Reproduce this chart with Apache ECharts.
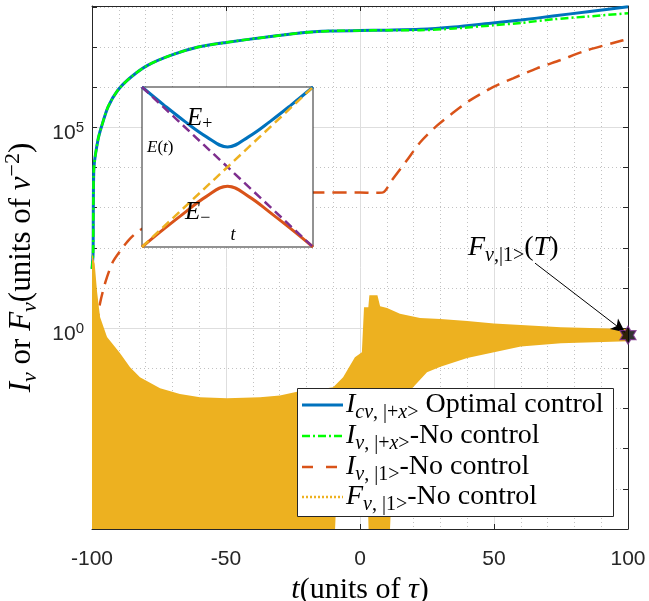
<!DOCTYPE html>
<html>
<head>
<meta charset="utf-8">
<script src="https://cdn.jsdelivr.net/npm/echarts@6/dist/echarts.min.js"></script>
<style>
html, body { margin: 0; padding: 0; background: #fff; }
#chart { width: 649px; height: 601px; }
</style>
</head>
<body>
<div id="chart"></div>
<script>
var chart = echarts.init(document.getElementById('chart'));

// I_v curves
var tPlus = [-100, -99.6, -99.5, -99.25, -97.8, -96.5, -94, -90.3, -85.3, -79.1, -70.4, -60.4, -50, -34.7, -22.4, -11.2, 0, 10, 22.4, 35, 49.6, 60, 72, 85, 100];
var iOptimal = [30, 72, 1.05e3, 1.05e4, 4.8e4, 1.02e5, 3.24e5, 8.5e5, 1.82e6, 3.55e6, 6.3e6, 1.0e7, 1.3e7, 1.78e7, 2.24e7, 2.5e7, 2.57e7, 2.63e7, 2.75e7, 3.16e7, 3.98e7, 4.68e7, 5.89e7, 7.59e7, 1.0e8];
var iPlusNoCtrl = [30, 72, 1.05e3, 1.05e4, 4.8e4, 1.02e5, 3.24e5, 8.5e5, 1.82e6, 3.55e6, 6.3e6, 1.0e7, 1.3e7, 1.78e7, 2.24e7, 2.5e7, 2.57e7, 2.63e7, 2.63e7, 2.88e7, 3.47e7, 3.98e7, 4.9e7, 5.75e7, 6.92e7];

var tOne = [-99.5, -98, -97, -95, -92.2, -88.6, -85.8, -82.2, -75, -65, -55, -45, -35, -25, -16, 0, 5, 8.6, 11.9, 17.5, 22.4, 28, 34.7, 41, 49.6, 57.1, 66, 74.6, 84.7, 97.8, 100];
var iOneNoCtrl = [0.3, 1.5, 4.2, 14, 45, 100, 170, 275, 450, 800, 1250, 1700, 2050, 2300, 2400, 2400, 2340, 2400, 4800, 1.51e4, 4.2e4, 1.0e5, 2.3e5, 4.68e5, 1.0e6, 1.66e6, 2.95e6, 4.68e6, 8.3e6, 1.45e7, 1.58e7];

// F_v band: upper and lower envelope of the fast oscillation
var tFTop = [-100, -99, -98.1, -97, -94.4, -89.6, -85.8, -82.1, -74.6, -67.2, -59.7, -49.6, -37.3, -29.9, -23.5, -15, -10, -6.3, -1.9, 0.7, 1.5, 3.1, 3.5, 6.5, 7.5, 10.1, 14.9, 22.4, 30, 40, 50, 60, 75, 100];
var fTop = [74, 40, 8, 1.9, 0.6, 0.24, 0.107, 0.06, 0.032, 0.023, 0.019, 0.018, 0.019, 0.021, 0.026, 0.03, 0.034, 0.06, 0.19, 0.25, 3.3, 3.3, 6.6, 6.6, 3.5, 3.2, 2.3, 1.8, 1.7, 1.5, 1.3, 1.2, 1.05, 0.95];
var tFBottom = [-100, -9.3, -9, 3, 3.2, 11.2, 11.5, 14, 18, 25, 30, 40, 50, 60, 75, 100];
var fBottom = [1e-5, 1e-5, 3e-5, 3e-5, 1e-5, 1e-5, 3e-5, 1e-3, 0.025, 0.08, 0.11, 0.18, 0.25, 0.35, 0.42, 0.47];

var fFinal = [[100, 0.67]];
var arrowFrom = [65.3, 41.7];
var arrowTo = [98.9, 0.79];

// inset: adiabatic and diabatic energies
var tInset = [-1, -0.75, -0.5, -0.25, 0, 0.25, 0.5, 0.75, 1];
var eUpper = [1, 0.78, 0.57, 0.38, 0.25, 0.38, 0.57, 0.78, 1];
var eLower = [-1, -0.78, -0.57, -0.37, -0.24, -0.37, -0.57, -0.78, -1];
var tDiab = [-1, 1];
var eDiabDown = [1, -1];
var eDiabUp = [-1, 1];

var serif = "'Liberation Serif', 'Times New Roman', serif";
var sans = "'Liberation Sans', Arial, Helvetica, sans-serif";
var axisColor = '#262626';
var majorGrid = '#dedede';
var minorGrid = '#c2c2c2';
var C_BLUE = '#0072BD', C_GREEN = '#00FF00', C_ORANGE = '#D95319', C_YELLOW = '#EDB120', C_PURPLE = '#7E2F8E';

function pairs(xs, ys) {
    return xs.map(function (x, i) { return [x, ys[i]]; });
}

// rich styles for LaTeX-like text; use `color` for echarts labels, `fill` for graphic
function mathRich(size, colorKey) {
    var lh = Math.round(size * 1.25);
    var s = Math.round(size * 0.7);
    var c = {};
    c[colorKey] = '#000';
    function st(o) { return Object.assign({ fontFamily: serif }, c, o); }
    return {
        i: st({ fontStyle: 'italic', fontSize: size, lineHeight: lh }),
        r: st({ fontSize: size, lineHeight: lh }),
        bi: st({ fontStyle: 'italic', fontSize: s, lineHeight: Math.round(lh * 0.6), verticalAlign: 'bottom' }),
        br: st({ fontSize: s, lineHeight: Math.round(lh * 0.6), verticalAlign: 'bottom' }),
        tr: st({ fontSize: s, lineHeight: Math.round(lh * 0.6), verticalAlign: 'top' })
    };
}

function gText(x, y, text, size, align) {
    return {
        type: 'text', x: x, y: y, z: 100,
        style: {
            text: text, rich: mathRich(size, 'fill'), fill: '#000',
            align: align || 'left', verticalAlign: 'middle'
        }
    };
}

function legendLine(y, color, dash, width) {
    return {
        type: 'line', z: 100,
        shape: { x1: 302, y1: y, x2: 343, y2: y },
        style: { stroke: color, lineWidth: width || 2.5, lineDash: dash || null }
    };
}

var legendRows = [405, 436, 467, 497];

var option = {
    animation: false,
    grid: [
        { left: 92, right: 21, top: 6, bottom: 72, outerBoundsMode: 'none', containLabel: false },
        { left: 142, top: 87, width: 171, height: 160, outerBoundsMode: 'none', show: true, backgroundColor: '#fff', borderColor: axisColor, borderWidth: 1, z: 10 }
    ],
    xAxis: [
        {
            gridIndex: 0, type: 'value', min: -100, max: 100, interval: 10,
            axisLine: { show: false }, axisTick: { show: false }, axisLabel: { show: false },
            splitLine: { show: true, lineStyle: { color: minorGrid, type: [1, 3] } }
        },
        {
            gridIndex: 0, type: 'value', min: -100, max: 100, interval: 50, position: 'bottom',
            axisLine: { show: true, onZero: false, lineStyle: { color: axisColor } },
            axisTick: { show: true, inside: true, length: 5, lineStyle: { color: axisColor } },
            axisLabel: { color: axisColor, fontFamily: sans, fontSize: 21, margin: 20 },
            splitLine: { show: true, lineStyle: { color: majorGrid } },
            name: '{i|t}{r|(units of }{i|τ}{r|)}',
            nameLocation: 'middle', nameGap: 37,
            nameTextStyle: { rich: mathRich(30, 'color') }
        },
        {
            gridIndex: 0, type: 'value', min: -100, max: 100, interval: 50, position: 'top',
            axisLine: { show: true, onZero: false, lineStyle: { color: axisColor } },
            axisTick: { show: true, inside: true, length: 5, lineStyle: { color: axisColor } },
            axisLabel: { show: false }, splitLine: { show: false }
        },
        { gridIndex: 1, type: 'value', min: -1, max: 1, show: false }
    ],
    yAxis: [
        {
            gridIndex: 0, type: 'log', logBase: 10, min: 1e-5, max: 1.05e8, interval: 1, position: 'left',
            axisLine: { show: true, onZero: false, lineStyle: { color: axisColor } },
            axisTick: { show: true, inside: true, length: 5, lineStyle: { color: axisColor } },
            axisLabel: { show: false },
            splitLine: { show: true, lineStyle: { color: minorGrid, type: [1, 3] } }
        },
        {
            gridIndex: 0, type: 'log', logBase: 10, min: 1e-5, max: 1.05e8, interval: 5, position: 'left',
            axisLine: { show: false, onZero: false }, axisTick: { show: false },
            axisLabel: {
                margin: 8,
                padding: [12, 0, 0, 0],
                formatter: function (v) {
                    var e = Math.round(Math.log10(v) * 1000) / 1000;
                    if (e === 0) return '{b|10}{s|0}';
                    if (e === 5) return '{b|10}{s|5}';
                    return '';
                },
                rich: {
                    b: { fontFamily: sans, fontSize: 21, color: axisColor, lineHeight: 26 },
                    s: { fontFamily: sans, fontSize: 15, color: axisColor, lineHeight: 12, verticalAlign: 'top' }
                }
            },
            splitLine: { show: true, lineStyle: { color: majorGrid } },
            name: '{i|I}{bi|v}{r| or }{i|F}{bi|v}{r|(units of }{i|v}{tr|−2}{r|)}',
            nameLocation: 'middle', nameRotate: 90, nameGap: 46,
            nameTextStyle: { rich: mathRich(31, 'color') }
        },
        {
            gridIndex: 0, type: 'log', logBase: 10, min: 1e-5, max: 1.05e8, interval: 1, position: 'right',
            axisLine: { show: true, onZero: false, lineStyle: { color: axisColor } },
            axisTick: { show: true, inside: true, length: 5, lineStyle: { color: axisColor } },
            axisLabel: { show: false }, splitLine: { show: false }
        },
        { gridIndex: 1, type: 'value', min: -1, max: 1, show: false }
    ],
    series: [
        {
            name: 'Icv', type: 'line', data: pairs(tPlus, iOptimal), symbol: 'none',
            smooth: 0.25, z: 2,
            lineStyle: { color: C_BLUE, width: 3 }
        },
        {
            name: 'Iv+x', type: 'line', data: pairs(tPlus, iPlusNoCtrl), symbol: 'none',
            smooth: 0.25, z: 2,
            lineStyle: { color: C_GREEN, width: 2.5, type: [8, 3, 2, 3] }
        },
        {
            name: 'Iv1', type: 'line', data: pairs(tOne, iOneNoCtrl), symbol: 'none',
            smooth: 0.25, z: 2,
            lineStyle: { color: C_ORANGE, width: 2.5, type: [14, 8] }
        },
        {
            name: 'Fv1', type: 'custom', z: 3, silent: true,
            data: pairs(tFTop, fTop),
            renderItem: function (params, api) {
                if (params.dataIndex !== 0) return null;
                var pts = [];
                for (var i = 0; i < tFTop.length; i++) pts.push(api.coord([tFTop[i], fTop[i]]));
                for (var j = tFBottom.length - 1; j >= 0; j--) pts.push(api.coord([tFBottom[j], fBottom[j]]));
                return { type: 'polygon', shape: { points: pts }, style: { fill: C_YELLOW } };
            }
        },
        {
            name: 'F(T)', type: 'scatter', data: fFinal, z: 5, clip: false, silent: true,
            symbol: 'path://M0,-10 L-2.89,-5 L-8.66,-5 L-5.77,0 L-8.66,5 L-2.89,5 L0,10 L2.89,5 L8.66,5 L5.77,0 L8.66,-5 L2.89,-5 Z',
            symbolSize: [16, 18],
            itemStyle: { color: '#000', borderColor: C_PURPLE, borderWidth: 1.2 },
            markLine: {
                silent: true, animation: false, symbol: ['none', 'arrow'], symbolSize: [10, 14],
                label: { show: false },
                lineStyle: { color: '#000', width: 1, type: 'solid' },
                data: [[{ coord: arrowFrom }, { coord: arrowTo }]]
            }
        },
        {
            type: 'line', xAxisIndex: 3, yAxisIndex: 3, data: pairs(tInset, eUpper), symbol: 'none',
            smooth: 0.4, z: 12, lineStyle: { color: C_BLUE, width: 3 }
        },
        {
            type: 'line', xAxisIndex: 3, yAxisIndex: 3, data: pairs(tInset, eLower), symbol: 'none',
            smooth: 0.4, z: 12, lineStyle: { color: C_ORANGE, width: 3 }
        },
        {
            type: 'line', xAxisIndex: 3, yAxisIndex: 3, data: pairs(tDiab, eDiabDown), symbol: 'none',
            z: 13, lineStyle: { color: C_PURPLE, width: 2.5, type: [9, 5] }
        },
        {
            type: 'line', xAxisIndex: 3, yAxisIndex: 3, data: pairs(tDiab, eDiabUp), symbol: 'none',
            z: 13, lineStyle: { color: C_YELLOW, width: 2.5, type: [9, 5] }
        }
    ],
    graphic: [
        // inset labels
        gText(187, 118, '{i|E}{br|+}', 25),
        gText(147, 148, '{i|E}{r|(}{i|t}{r|)}', 17),
        gText(185, 212, '{i|E}{br|−}', 25),
        gText(233, 235, '{i|t}', 18, 'center'),
        // annotation
        gText(468, 248, '{i|F}{bi|v}{br|,|1>}{r|(}{i|T}{r|)}', 28),
        // legend
        {
            type: 'rect', z: 99,
            shape: { x: 297.5, y: 388.5, width: 316, height: 128 },
            style: { fill: '#fff', stroke: axisColor, lineWidth: 1 }
        },
        legendLine(legendRows[0], C_BLUE, null, 3),
        legendLine(legendRows[1], C_GREEN, [8, 3, 2, 3]),
        legendLine(legendRows[2], C_ORANGE, [11, 13]),
        legendLine(legendRows[3], C_YELLOW, [2, 2]),
        gText(346, legendRows[0], '{i|I}{bi|cv}{br|, |+}{bi|x}{br|>}{r| Optimal control}', 28),
        gText(346, legendRows[1], '{i|I}{bi|v}{br|, |+}{bi|x}{br|>}{r|-No control}', 28),
        gText(346, legendRows[2], '{i|I}{bi|v}{br|, |1>}{r|-No control}', 28),
        gText(346, legendRows[3], '{i|F}{bi|v}{br|, |1>}{r|-No control}', 28)
    ]
};

chart.setOption(option);
</script>
</body>
</html>
